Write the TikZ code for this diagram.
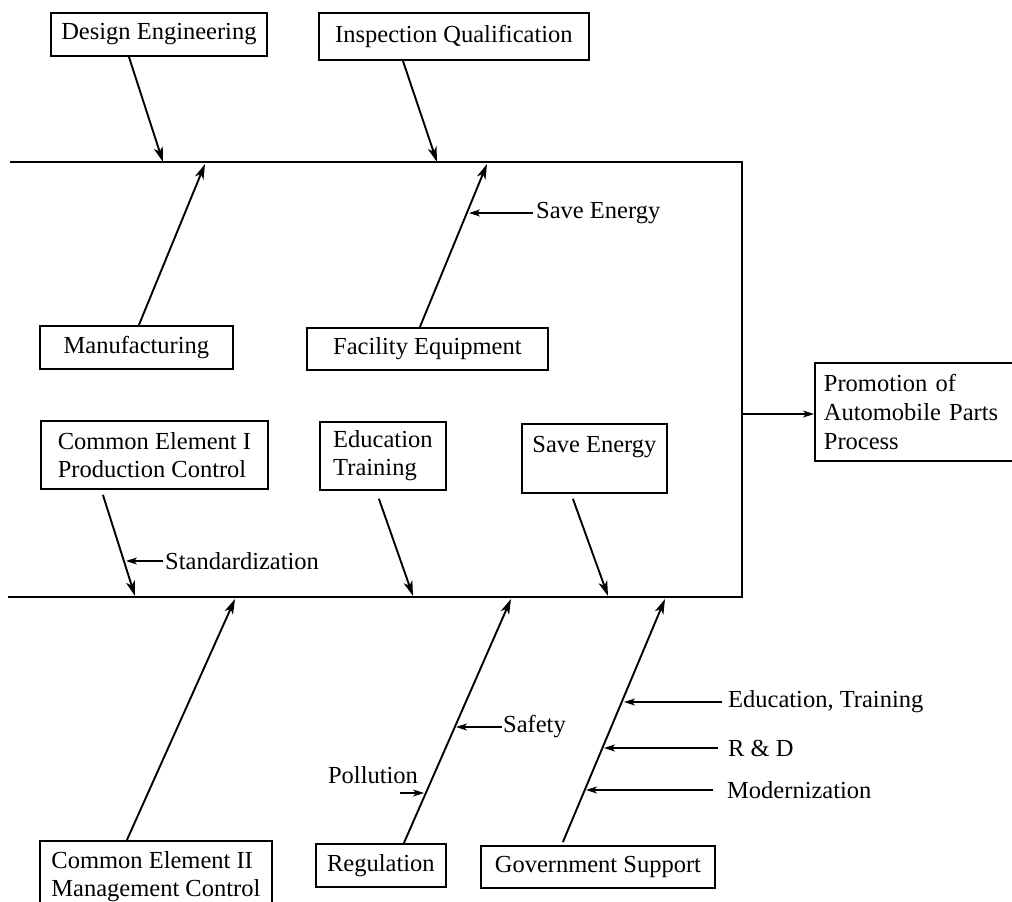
\documentclass[tikz,border=0pt]{standalone}
\usepackage{fontspec}
\setmainfont{Liberation Serif}
\usetikzlibrary{arrows.meta}
\begin{document}
\begin{tikzpicture}[x=1pt,y=-1pt,
  txt/.style={font=\fontsize{24.5}{28}\selectfont},
  box/.style={txt, draw, line width=1.8pt, rectangle, inner sep=0pt, anchor=north west, align=left},
  lbl/.style={txt, inner sep=0pt, anchor=west},
  bone/.style={line width=1.9pt, -{Stealth[length=15pt,width=9pt,inset=4pt]}},
  tick/.style={line width=1.3pt, -{Stealth[length=11pt,width=7pt,inset=3pt]}},
  spine/.style={line width=1.9pt}]
\useasboundingbox (0,0) rectangle (1012,902);
\clip (0,0) rectangle (1012,902);

% boxes
\node[box, minimum width=216pt, minimum height=43pt] (de) at (50,12) {Design Engineering};
\node[box, minimum width=270pt, minimum height=47pt] (iq) at (318,12) {Inspection Qualification};
\node[box, minimum width=193pt, minimum height=43pt] (mf) at (39,325) {Manufacturing};
\node[box, minimum width=241pt, minimum height=42pt] (fe) at (306,327) {Facility Equipment};
\node[box, minimum width=227pt, minimum height=68pt] (ce1) at (40,420) {Common Element I\\Production Control};
\node[box, minimum width=126pt, minimum height=68pt] (ed) at (319,421) {Education\\Training};
\node[box, minimum width=145pt, minimum height=69pt] (se) at (521,423) {Save Energy\\\mbox{}};
\node[box, minimum width=232pt, minimum height=72pt] (ce2) at (39,840) {Common Element II\\Management Control};
\node[box, minimum width=130pt, minimum height=43pt] (reg) at (315,843) {Regulation};
\node[box, minimum width=234pt, minimum height=42pt] (gov) at (480,845) {Government Support};
\node[box, text width=184pt, inner xsep=9pt, minimum height=98pt, font=\fontsize{24.5}{29}\selectfont] (out) at (814,362) {Promotion of\\Automobile Parts\\Process};

% spine frame
\coordinate (tl) at (10,162);
\coordinate (tr) at (742,162);
\coordinate (br) at (742,597);
\coordinate (bl) at (8,597);
\draw[spine] (tl) -- (tr) -- (br) -- (bl);
\coordinate (o) at (742,414);
\draw[tick] (o) -- (o -| out.west);

% bone tips
\coordinate (hde) at (163,162);
\coordinate (hiq) at (437,162);
\coordinate (hmf) at (205,164);
\coordinate (hfe) at (487,164);
\coordinate (hce1) at (135,596);
\coordinate (hed) at (413,596);
\coordinate (hse) at (608,596);
\coordinate (hce2) at (235,599);
\coordinate (hreg) at (511,599);
\coordinate (hgov) at (665,599);

\draw[bone] ([xshift=-30pt]de.south) -- (hde);
\draw[bone] ([xshift=-51pt]iq.south) -- (hiq);
\draw[bone] ([xshift=2.5pt]mf.north) -- (hmf);
\draw[bone] ([xshift=-7.5pt]fe.north) -- (hfe);
\draw[bone] ([xshift=-51.5pt,yshift=-5pt]ce1.south) -- (hce1);
\draw[bone] ([xshift=-4pt,yshift=-8pt]ed.south) -- (hed);
\draw[bone] ([xshift=-21.5pt,yshift=-5pt]se.south) -- (hse);
\draw[bone] ([xshift=-29pt]ce2.north) -- (hce2);
\draw[bone] ([xshift=23pt]reg.north) -- (hreg);
\draw[bone] ([xshift=-35pt,yshift=3pt]gov.north) -- (hgov);

% sub-causes
\node[lbl] (lse) at (536,213) {Save Energy};
\coordinate (cse) at (469,213);
\draw[tick] ([xshift=-3pt]lse.west) -- (cse);

\node[lbl] (lst) at (165,561) {Standardization};
\coordinate (cst) at (126,561);
\draw[tick] ([xshift=-2pt]lst.west) -- (cst);

\node[lbl] (lsa) at (503,727) {Safety};
\coordinate (csa) at (456,727);
\draw[tick] ([xshift=-1pt]lsa.west) -- (csa);

\node[txt, inner sep=0pt] (lpo) at (373,775) {Pollution};
\coordinate (cpo) at (424,793);
\draw[tick] ([xshift=27pt,yshift=-18pt]lpo.center) -- (cpo);

\node[lbl] (let) at (728,702) {Education, Training};
\coordinate (cet) at (624,702);
\draw[tick] ([xshift=-6pt]let.west) -- (cet);

\node[lbl] (lrd) at (728,748) {R \& D};
\coordinate (crd) at (604,748);
\draw[tick] ([xshift=-10pt]lrd.west) -- (crd);

\node[lbl] (lmo) at (727,790) {Modernization};
\coordinate (cmo) at (586,790);
\draw[tick] ([xshift=-14pt]lmo.west) -- (cmo);
\end{tikzpicture}
\end{document}
